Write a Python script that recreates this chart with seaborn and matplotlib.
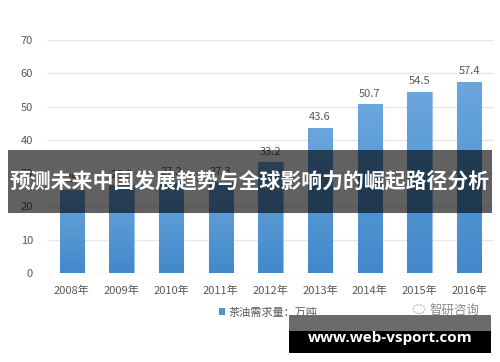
import numpy as np
import pandas as pd
import matplotlib
matplotlib.use("Agg")
import matplotlib.pyplot as plt
import seaborn as sns
from matplotlib.patches import Rectangle, Patch, Circle
from matplotlib.colors import LinearSegmentedColormap

years = ["2008年", "2009年", "2010年", "2011年", "2012年", "2013年", "2014年", "2015年", "2016年"]
values = [25, 26.3, 27.2, 27.3, 33.2, 43.6, 50.7, 54.5, 57.4]
y_ticks = [0, 10, 20, 30, 40, 50, 60, 70]
legend_label = "茶油需求量：万吨"
title_text = "预测未来中国发展趋势与全球影响力的崛起路径分析"
site_text = "www.web-vsport.com"
watermark = "智研咨询"

sns.set_theme(style="white")
plt.rcParams['font.family'] = ['Noto Sans CJK SC', 'DejaVu Sans']

df = pd.DataFrame({"year": years, "value": values})

fig = plt.figure(figsize=(5.0, 3.62), dpi=100)
ax = fig.add_axes([0.094, 0.2459, 0.894, 0.6436])

sns.barplot(data=df, x="year", y="value", color="#5b9bd5", saturation=1,
            width=0.49, edgecolor="#9cc4ea", linewidth=0.8, ax=ax, zorder=3)

# gradient fill for each bar
cmap = LinearSegmentedColormap.from_list("g", ["#4289ca", "#6ba6dd"])
grad = np.linspace(0, 1, 100).reshape(-1, 1)
for p in ax.patches:
    x0, y0 = p.get_x(), p.get_y()
    w, h = p.get_width(), p.get_height()
    im = ax.imshow(grad, cmap=cmap, origin="lower", aspect="auto",
                   extent=[x0, x0 + w, y0, y0 + h], zorder=3.5)
    im.set_clip_path(p)

ax.set_xlim(-0.5, len(years) - 0.5)
ax.set_ylim(0, 70)
ax.set_yticks(y_ticks)
ax.yaxis.grid(True, color="#e6e7f0", linewidth=1.0, zorder=0)
ax.set_axisbelow(True)
for s in ax.spines.values():
    s.set_visible(False)
ax.tick_params(axis="y", length=0, pad=10, labelsize=8, labelcolor="#595959")
ax.tick_params(axis="x", length=0, pad=9, labelsize=8, labelcolor="#595959")
ax.set_xlabel("")
ax.set_ylabel("")

ax.bar_label(ax.containers[0], labels=[f"{v:g}" for v in values], padding=4,
             fontsize=8, color="#595959", zorder=5)

# legend
handle = Patch(facecolor="#4f93d3", edgecolor="none")
fig.legend([handle], [legend_label], loc="center left", bbox_to_anchor=(0.418, 0.137),
           frameon=False, fontsize=8, handlelength=0.55, handleheight=0.55,
           handletextpad=0.3, labelcolor="#595959")

# watermark
fig.text(0.86, 0.143, watermark, fontsize=9, color="#8a8a8a", ha="left", va="center")
fig.add_artist(Circle((0.838, 0.146), 0.012, transform=fig.transFigure, fill=False,
                      edgecolor="#b5b5b5", linewidth=0.8, linestyle=(0, (2, 1)), zorder=4))

# title banner
fig.add_artist(Rectangle((0.016, 0.4116), 0.968, 0.174, transform=fig.transFigure,
                         facecolor="black", alpha=0.62, edgecolor="none", zorder=10))
fig.text(0.5, 0.5, title_text, fontsize=15, fontweight="bold", color="white",
         ha="center", va="center", zorder=11)

# site banner
fig.add_artist(Rectangle((0.578, 0.025), 0.404, 0.061, transform=fig.transFigure,
                         facecolor="black", edgecolor="none", zorder=10))
fig.add_artist(Rectangle((0.578, 0.086), 0.404, 0.044, transform=fig.transFigure,
                         facecolor="#6b6b6b", edgecolor="none", zorder=10))
fig.text(0.78, 0.066, site_text, fontsize=11, fontweight="bold", color="white",
         family=["Open Sans", "DejaVu Sans"], ha="center", va="center", zorder=11)

fig.savefig("out.png", dpi=100)
